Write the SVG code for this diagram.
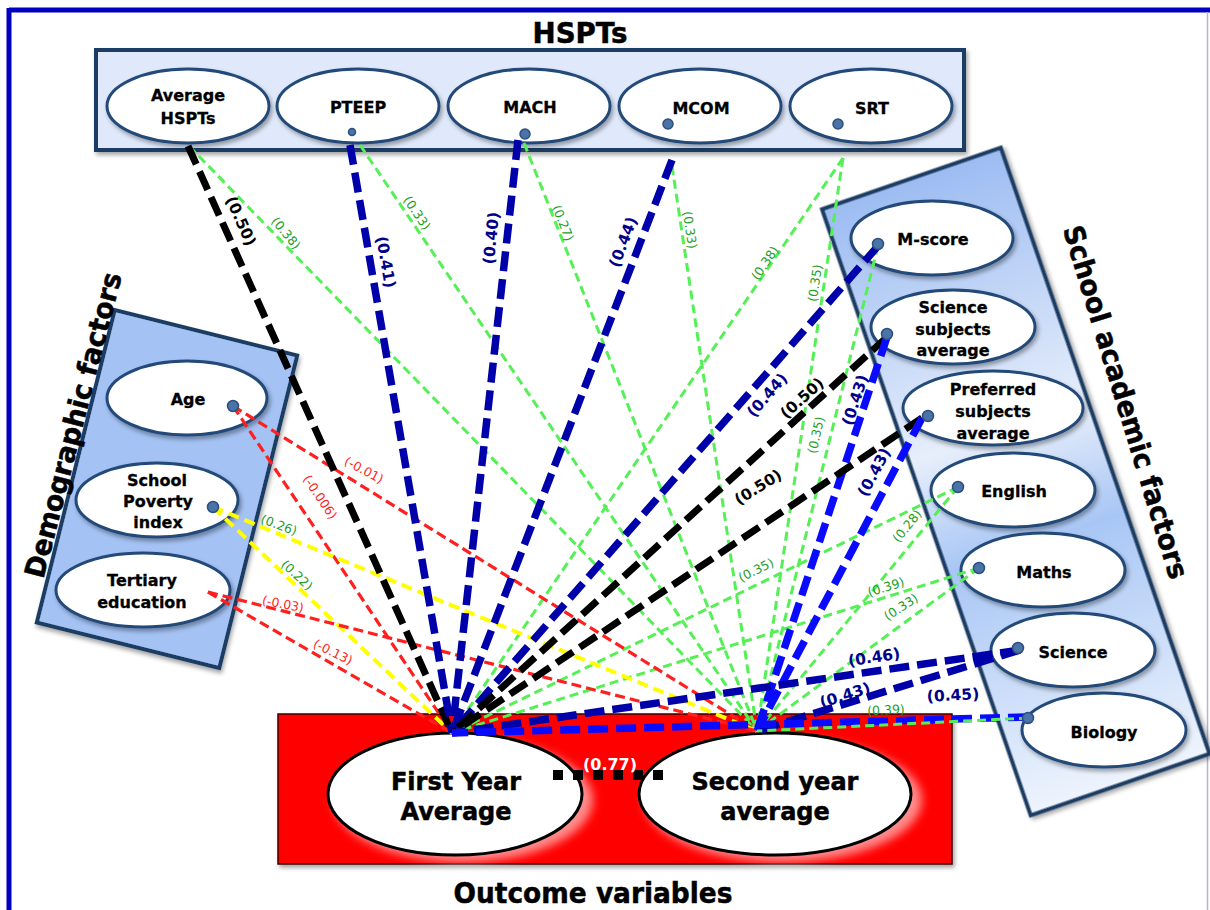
<svg xmlns="http://www.w3.org/2000/svg" width="1210" height="910" viewBox="0 0 1210 910">
<defs>
<style>
text{font-family:"DejaVu Sans","Liberation Sans",sans-serif}
.nt{font-size:16px;font-weight:bold;fill:#000;text-anchor:middle;stroke:#000;stroke-width:0.3}
.ot{font-size:24px;font-weight:bold;fill:#000;text-anchor:middle;stroke:#000;stroke-width:0.5}
.title{font-size:28px;font-weight:bold;fill:#000;text-anchor:middle;stroke:#000;stroke-width:0.5}
.ell{fill:#fff;stroke:#234a78;stroke-width:3}
.box{stroke:#1f3d63;stroke-width:4}
.port{fill:#4a74a8;stroke:#2d4f7e;stroke-width:1.5}
.c line{fill:none;stroke-linecap:butt}
.tk{stroke:#000;stroke-width:7;stroke-dasharray:20 8}
.tn{stroke:#0000aa;stroke-width:7.5;stroke-dasharray:20 8}
.tb{stroke:#0a0aff;stroke-width:7.5;stroke-dasharray:20 8}
.g{stroke:#55f055;stroke-width:3;stroke-dasharray:9 5}
.r{stroke:#ff1f1f;stroke-width:3.2;stroke-dasharray:10 5}
.y{stroke:#ffff00;stroke-width:4;stroke-dasharray:11 6}
.ls{font-size:12.5px;text-anchor:middle;fill:#1e9e1e}
.lr{font-size:12.5px;text-anchor:middle;fill:#ff1f1f}
.lb{font-size:15.5px;font-weight:bold;text-anchor:middle;fill:#00008b}
.lk{font-size:15.5px;font-weight:bold;text-anchor:middle;fill:#000}
</style>
<filter id="sh" x="-20%" y="-20%" width="140%" height="150%"><feDropShadow dx="2" dy="3" stdDeviation="2" flood-color="#000" flood-opacity="0.35"/></filter>
<filter id="glow" x="-30%" y="-30%" width="160%" height="160%"><feGaussianBlur stdDeviation="5"/></filter>
<linearGradient id="sg" x1="0" y1="0" x2="0" y2="1">
<stop offset="0" stop-color="#9cbcf2"/>
<stop offset="0.42" stop-color="#e6eefb"/>
<stop offset="0.6" stop-color="#a8c6f5"/>
<stop offset="1" stop-color="#eef4fd"/>
</linearGradient>
</defs>
<rect x="0" y="0" width="1210" height="910" fill="#fff"/>
<g id="frame">
<line x1="9" y1="10" x2="1210" y2="10" stroke="#0000c0" stroke-width="5"/>
<line x1="9" y1="8" x2="9" y2="910" stroke="#0000c0" stroke-width="5"/>
<line x1="1207.5" y1="12" x2="1207.5" y2="910" stroke="#b4b4dc" stroke-width="1.5"/>
</g>

<g id="hspts">
<text class="title" x="580" y="43" textLength="95" lengthAdjust="spacingAndGlyphs">HSPTs</text>
<rect class="box" x="96" y="50" width="868" height="100" fill="#dfe9fb" filter="url(#sh)"/>
</g>
<g id="avg-hspts"><ellipse class="ell" cx="188" cy="106" rx="81" ry="37" filter="url(#sh)"/><text class="nt" x="188" y="101">Average</text><text class="nt" x="188" y="124">HSPTs</text></g>
<g id="pteep"><ellipse class="ell" cx="358" cy="106" rx="81" ry="37" filter="url(#sh)"/><text class="nt" x="358" y="113">PTEEP</text></g>
<g id="mach"><ellipse class="ell" cx="529" cy="106" rx="81" ry="37" filter="url(#sh)"/><text class="nt" x="530" y="113">MACH</text></g>
<g id="mcom"><ellipse class="ell" cx="700" cy="106" rx="81" ry="37" filter="url(#sh)"/><text class="nt" x="701" y="114">MCOM</text></g>
<g id="srt"><ellipse class="ell" cx="871" cy="106" rx="81" ry="37" filter="url(#sh)"/><text class="nt" x="872" y="114">SRT</text></g>

<g id="demographic">
<rect class="box" x="-94" y="-161" width="188" height="322" fill="#a4c2f4" transform="translate(167,489) rotate(14)" filter="url(#sh)"/>
<text class="title" font-size="27" transform="translate(73,425) rotate(-75.5)" y="10" textLength="314" lengthAdjust="spacingAndGlyphs">Demographic factors</text>
</g>
<g id="age"><ellipse class="ell" cx="187" cy="398" rx="80" ry="37" filter="url(#sh)"/><text class="nt" x="188" y="405">Age</text></g>
<g id="poverty"><ellipse class="ell" cx="157" cy="500" rx="81" ry="37" filter="url(#sh)"/><text class="nt" x="157" y="486">School</text><text class="nt" x="158" y="507">Poverty</text><text class="nt" x="158" y="528">index</text></g>
<g id="tertiary"><ellipse class="ell" cx="143" cy="590" rx="87" ry="37" filter="url(#sh)"/><text class="nt" x="142" y="586">Tertiary</text><text class="nt" x="142" y="608">education</text></g>

<g id="school">
<rect class="box" x="-94.5" y="-320.5" width="189" height="641" fill="url(#sg)" transform="translate(1015.75,481.5) rotate(-19)" filter="url(#sh)"/>
<text class="title" font-size="27" transform="translate(1126,402) rotate(73)" y="10" textLength="368" lengthAdjust="spacingAndGlyphs">School academic factors</text>
</g>
<g id="mscore"><ellipse class="ell" cx="932" cy="238" rx="81" ry="37" filter="url(#sh)"/><text class="nt" x="933" y="245">M-score</text></g>
<g id="scisub"><ellipse class="ell" cx="953" cy="327" rx="82" ry="37" filter="url(#sh)"/><text class="nt" x="953" y="313">Science</text><text class="nt" x="953" y="335">subjects</text><text class="nt" x="953" y="356">average</text></g>
<g id="preferred"><ellipse class="ell" cx="993" cy="408" rx="90" ry="37" filter="url(#sh)"/><text class="nt" x="993" y="395">Preferred</text><text class="nt" x="993" y="417">subjects</text><text class="nt" x="993" y="439">average</text></g>
<g id="english"><ellipse class="ell" cx="1013" cy="490" rx="82" ry="37" filter="url(#sh)"/><text class="nt" x="1014" y="497">English</text></g>
<g id="maths"><ellipse class="ell" cx="1043" cy="570" rx="82" ry="37" filter="url(#sh)"/><text class="nt" x="1044" y="578">Maths</text></g>
<g id="science"><ellipse class="ell" cx="1073" cy="650" rx="82" ry="37" filter="url(#sh)"/><text class="nt" x="1073" y="658">Science</text></g>
<g id="biology"><ellipse class="ell" cx="1104" cy="730" rx="82" ry="37" filter="url(#sh)"/><text class="nt" x="1104" y="738">Biology</text></g>

<g id="outcome">
<rect x="278" y="714" width="674" height="150" fill="#ff0000" stroke="#3a0000" stroke-width="1.5" filter="url(#sh)"/>
<text class="title" x="593" y="903" textLength="279" lengthAdjust="spacingAndGlyphs">Outcome variables</text>
</g>
<g id="fya">
<ellipse cx="463" cy="800" rx="130" ry="62" fill="#fff" opacity="0.55" filter="url(#glow)"/>
<ellipse cx="455" cy="794" rx="127" ry="61" fill="#fff" stroke="#000" stroke-width="3"/>
<text class="ot" x="456" y="790">First Year</text><text class="ot" x="456" y="820">Average</text>
</g>
<g id="sya">
<ellipse cx="783" cy="800" rx="139" ry="62" fill="#fff" opacity="0.55" filter="url(#glow)"/>
<ellipse cx="775" cy="794" rx="136" ry="61" fill="#fff" stroke="#000" stroke-width="3"/>
<text class="ot" x="775" y="790">Second year</text><text class="ot" x="775" y="820">average</text>
</g>

<g id="connectors" class="c">
<line class="g" x1="189" y1="146" x2="757" y2="731"/>
<line class="g" x1="360" y1="145" x2="757" y2="731"/>
<line class="g" x1="524" y1="143" x2="757" y2="731"/>
<line class="g" x1="672" y1="166" x2="757" y2="731"/>
<line class="g" x1="843" y1="158" x2="452" y2="733"/>
<line class="g" x1="843" y1="158" x2="757" y2="731"/>
<line class="g" x1="878" y1="246" x2="757" y2="731"/>
<line class="g" x1="958" y1="487" x2="452" y2="733"/>
<line class="g" x1="958" y1="487" x2="757" y2="731"/>
<line class="g" x1="979" y1="568" x2="452" y2="733"/>
<line class="g" x1="979" y1="568" x2="757" y2="731"/>
<line class="r" x1="233" y1="406" x2="452" y2="733"/>
<line class="r" x1="233" y1="406" x2="757" y2="731"/>
<line class="y" x1="213" y1="507" x2="452" y2="733"/>
<line class="y" x1="213" y1="507" x2="757" y2="731"/>
<line class="r" x1="208" y1="592" x2="452" y2="733"/>
<line class="r" x1="208" y1="592" x2="757" y2="731"/>
<line class="tk" x1="188" y1="146" x2="452" y2="733"/>
<line class="tn" x1="350" y1="145" x2="452" y2="733"/>
<line class="tn" x1="518" y1="140" x2="452" y2="733"/>
<line class="tn" x1="672" y1="160" x2="452" y2="733"/>
<line class="tn" x1="878" y1="246" x2="452" y2="733"/>
<line class="tk" x1="887" y1="337" x2="452" y2="733"/>
<line class="tb" x1="887" y1="337" x2="757" y2="731"/>
<line class="tk" x1="922" y1="418" x2="452" y2="733"/>
<line class="tb" x1="922" y1="418" x2="757" y2="731"/>
<line class="tn" x1="1020" y1="650" x2="452" y2="733"/>
<line class="tn" x1="1020" y1="650" x2="757" y2="731"/>
<line class="tb" x1="1028" y1="717" x2="452" y2="733"/>
<line class="g" x1="1028" y1="718" x2="757" y2="731"/>
<line x1="553" y1="775" x2="663" y2="775" stroke="#000" stroke-width="10" stroke-dasharray="10 10"/>
</g>

<g id="ports">
<circle class="port" cx="352" cy="132" r="3.5"/>
<circle class="port" cx="525" cy="134" r="5"/>
<circle class="port" cx="668" cy="124" r="5"/>
<circle class="port" cx="838" cy="124" r="5"/>
<circle class="port" cx="233" cy="406" r="5.5"/>
<circle class="port" cx="213" cy="507" r="5.5"/>
<circle class="port" cx="878" cy="244" r="5.5"/>
<circle class="port" cx="887" cy="334" r="5.5"/>
<circle class="port" cx="928" cy="416" r="5.5"/>
<circle class="port" cx="958" cy="487" r="5.5"/>
<circle class="port" cx="979" cy="568" r="5.5"/>
<circle class="port" cx="1018" cy="648" r="5.5"/>
<circle class="port" cx="1028" cy="718" r="5.5"/>
</g>

<g id="labels">
<text class="lk" transform="translate(241,221) rotate(66)" dy="0.35em">(0.50)</text>
<text class="lb" transform="translate(386,262) rotate(80)" dy="0.35em">(0.41)</text>
<text class="lb" transform="translate(491,238) rotate(-84)" dy="0.35em">(0.40)</text>
<text class="lb" transform="translate(623,242) rotate(-69)" dy="0.35em">(0.44)</text>
<text class="lb" transform="translate(767,395) rotate(-49)" dy="0.35em">(0.44)</text>
<text class="lk" transform="translate(802,398) rotate(-42)" dy="0.35em">(0.50)</text>
<text class="lb" transform="translate(855,400) rotate(-72)" dy="0.35em">(0.43)</text>
<text class="lb" transform="translate(874,472) rotate(-62)" dy="0.35em">(0.43)</text>
<text class="lk" transform="translate(758,487) rotate(-32)" dy="0.35em">(0.50)</text>
<text class="lb" transform="translate(874,657) rotate(-8.5)" dy="0.35em">(0.46)</text>
<text class="lb" transform="translate(845,695) rotate(-17.5)" dy="0.35em">(0.43)</text>
<text class="lb" transform="translate(953,695) rotate(-3)" dy="0.35em">(0.45)</text>
<text class="ls" transform="translate(286,233) rotate(50)" dy="0.35em">(0.38)</text>
<text class="ls" transform="translate(417,213) rotate(56)" dy="0.35em">(0.33)</text>
<text class="ls" transform="translate(563,223) rotate(68)" dy="0.35em">(0.27)</text>
<text class="ls" transform="translate(690,230) rotate(81)" dy="0.35em">(0.33)</text>
<text class="ls" transform="translate(765,263) rotate(-56)" dy="0.35em">(0.38)</text>
<text class="ls" transform="translate(815,283) rotate(-81)" dy="0.35em">(0.35)</text>
<text class="ls" transform="translate(816,435) rotate(-77)" dy="0.35em">(0.35)</text>
<text class="ls" transform="translate(756,570) rotate(-26)" dy="0.35em">(0.35)</text>
<text class="ls" transform="translate(907,526) rotate(-51)" dy="0.35em">(0.28)</text>
<text class="ls" transform="translate(886,587) rotate(-17)" dy="0.35em">(0.39)</text>
<text class="ls" transform="translate(901,607) rotate(-33)" dy="0.35em">(0.33)</text>
<text class="ls" transform="translate(886,710) rotate(-3)" dy="0.35em">(0.39)</text>
<text class="lr" transform="translate(364,470) rotate(28)" dy="0.35em">(-0.01)</text>
<text class="lr" transform="translate(320,497) rotate(56)" dy="0.35em">(-0.006)</text>
<text class="ls" transform="translate(279,525) rotate(20)" dy="0.35em">(0.26)</text>
<text class="ls" transform="translate(297,575) rotate(43)" dy="0.35em">(0.22)</text>
<text class="lr" transform="translate(283,604) rotate(11)" dy="0.35em">(-0.03)</text>
<text class="lr" transform="translate(333,652) rotate(26)" dy="0.35em">(-0.13)</text>
<text x="610" y="770" font-size="16" font-weight="bold" fill="#fff" text-anchor="middle">(0.77)</text>
</g>
</svg>
